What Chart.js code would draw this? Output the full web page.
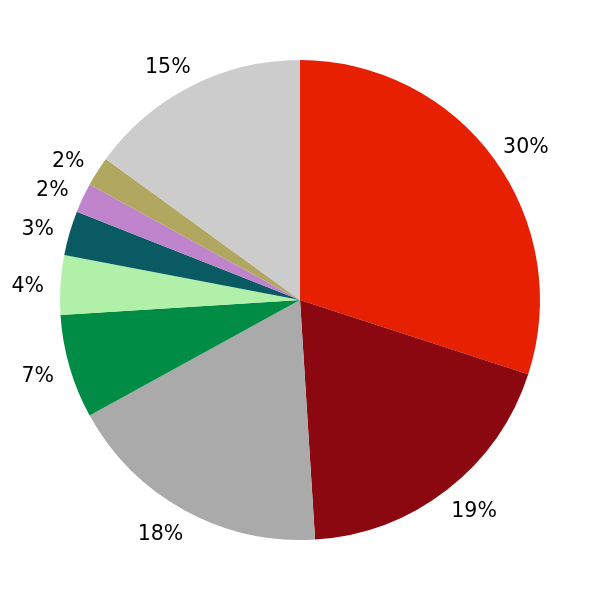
<!DOCTYPE html>
<html>
<head>
<meta charset="utf-8">
<script src="https://cdn.jsdelivr.net/npm/chart.js@4"></script>
<style>
html,body{margin:0;padding:0;background:#fff;}
#wrap{width:600px;height:600px;}
</style>
</head>
<body>
<div id="wrap"><canvas id="c" width="600" height="600"></canvas></div>
<script>
const categories = ["A","B","C","D","E","F","G","H","I"];
const values = [30, 19, 18, 7, 4, 3, 2, 2, 15];
const labels = ["30%","19%","18%","7%","4%","3%","2%","2%","15%"];
const colors = ["#E62000","#8B0810","#AAAAAA","#008C44","#B0F0A8","#0A5A64","#C084CC","#B0A860","#CCCCCC"];

const outsideLabels = {
  id: 'outsideLabels',
  afterDatasetsDraw(chart) {
    const ctx = chart.ctx;
    const meta = chart.getDatasetMeta(0);
    ctx.save();
    ctx.font = '20.5px "DejaVu Sans"';
    ctx.fillStyle = '#000';
    ctx.textAlign = 'center';
    ctx.textBaseline = 'middle';
    meta.data.forEach((arc, i) => {
      const p = arc.getProps(['x','y','startAngle','endAngle','outerRadius'], true);
      const mid = (p.startAngle + p.endAngle) / 2;
      const r = p.outerRadius * 1.1;
      const cx = Math.cos(mid);
      const w = ctx.measureText(labels[i]).width;
      const x = p.x + cx * r + Math.sign(cx) * 0.27 * w;
      const y = p.y + Math.sin(mid) * r + 3;
      ctx.fillText(labels[i], x, y);
    });
    ctx.restore();
  }
};

new Chart(document.getElementById('c'), {
  type: 'pie',
  data: {
    labels: categories,
    datasets: [{
      data: values,
      backgroundColor: colors,
      borderWidth: 0
    }]
  },
  options: {
    responsive: false,
    animation: false,
    layout: { padding: 60 },
    plugins: { legend: { display: false }, tooltip: { enabled: false } }
  },
  plugins: [outsideLabels]
});
</script>
</body>
</html>
